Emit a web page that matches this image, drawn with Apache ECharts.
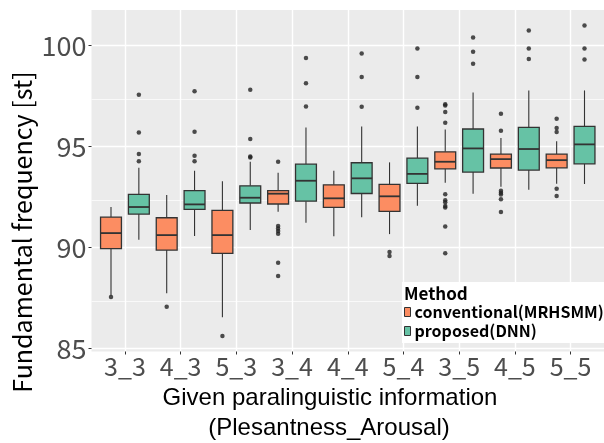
<!DOCTYPE html>
<html><head><meta charset="utf-8">
<script src="https://cdn.jsdelivr.net/npm/echarts@6/dist/echarts.min.js"></script>
<style>html,body{margin:0;padding:0;background:#fff}#c{width:604px;height:443px}</style>
</head><body><div id="c"></div>
<script>
// ---- data ----
const categories = ['3_3','4_3','5_3','3_4','4_4','5_4','3_5','4_5','5_5'];
const yTicks = [85, 90, 95, 100];
const seriesNames = ['conventional(MRHSMM)', 'proposed(DNN)'];

// conventional (MRHSMM): whisker low, Q1, median, Q3, whisker high
const convLow  = [87.62, 87.73, 86.54, 91.77, 90.55, 90.66, 93.20, 93.00, 93.15];
const convQ1   = [89.94, 89.87, 89.71, 92.15, 91.98, 91.78, 93.89, 93.93, 93.94];
const convMed  = [90.71, 90.61, 90.61, 92.66, 92.43, 92.53, 94.24, 94.37, 94.32];
const convQ3   = [91.50, 91.47, 91.83, 92.81, 93.10, 93.12, 94.73, 94.62, 94.62];
const convHigh = [92.00, 92.59, 93.27, 93.69, 93.79, 94.21, 95.84, 95.41, 95.26];
const convOut  = [
  [87.55],
  [87.07],
  [85.62],
  [94.24, 91.06, 90.94, 90.81, 90.68, 89.24, 88.59],
  [],
  [89.77, 89.57],
  [96.17, 96.70, 97.03, 97.09, 92.63, 92.34, 92.23, 92.05, 91.98, 91.04, 89.71],
  [95.77, 96.61, 92.80, 92.71, 92.62, 92.38, 91.75],
  [95.71, 95.91, 96.37, 92.90, 92.54]
];

// proposed (DNN)
const propLow  = [90.38, 90.56, 90.86, 91.22, 91.49, 92.06, 92.66, 92.85, 93.14];
const propQ1   = [91.65, 91.88, 92.20, 92.29, 92.67, 93.17, 93.73, 93.83, 94.14];
const propMed  = [92.00, 92.13, 92.46, 93.30, 93.42, 93.64, 94.90, 94.87, 95.10];
const propQ3   = [92.63, 92.81, 93.05, 94.12, 94.19, 94.42, 95.86, 95.94, 95.99];
const propHigh = [93.94, 93.79, 94.24, 95.94, 95.99, 95.99, 97.67, 97.77, 97.77];
const propOut  = [
  [94.26, 94.62, 95.69, 97.55],
  [94.27, 94.54, 95.72, 97.73],
  [94.45, 94.50, 95.36, 97.80],
  [96.98, 98.13, 99.38],
  [96.96, 98.43, 99.60],
  [96.91, 98.44, 99.85],
  [99.09, 99.68, 100.39],
  [99.32, 99.85, 100.74],
  [99.30, 99.85, 100.98]
];

// ---- styles / layout ----
const COLORS = ['#FC8D62', '#66C2A5'];
const DODGE = [-0.25, 0.25];
const BOX_W = 0.375;
const TICK_FONT = '"Noto Sans CJK JP", "Noto Sans", sans-serif';
const TITLE_FONT = '"Liberation Sans", Arial, sans-serif';

function boxData(low, q1, med, q3, high) {
  return categories.map((c, i) => [i, low[i], q1[i], med[i], q3[i], high[i]]);
}
function outData(outs, off) {
  const pts = [];
  outs.forEach((list, i) => list.forEach(v => pts.push([i + off, v])));
  return pts;
}
function renderBox(off, fill) {
  return function (params, api) {
    const x = api.value(0) + off;
    const pL = api.coord([x, api.value(1)]);
    const p1 = api.coord([x, api.value(2)]);
    const pM = api.coord([x, api.value(3)]);
    const p3 = api.coord([x, api.value(4)]);
    const pH = api.coord([x, api.value(5)]);
    const hw = api.size([BOX_W, 0])[0] / 2;
    const xc = pM[0];
    const ln = { stroke: '#333333', lineWidth: 1.1 };
    return {
      type: 'group',
      children: [
        { type: 'line', shape: { x1: xc, y1: pH[1], x2: xc, y2: p3[1] }, style: ln },
        { type: 'line', shape: { x1: xc, y1: p1[1], x2: xc, y2: pL[1] }, style: ln },
        { type: 'rect', shape: { x: xc - hw, y: p3[1], width: 2 * hw, height: p1[1] - p3[1] },
          style: { fill: fill, stroke: '#333333', lineWidth: 1.3 } },
        { type: 'line', shape: { x1: xc - hw, y1: pM[1], x2: xc + hw, y2: pM[1] },
          style: { stroke: '#333333', lineWidth: 1.8 } }
      ]
    };
  };
}

const chart = echarts.init(document.getElementById('c'), null, { renderer: 'canvas' });
const catIdx = categories.map((c, i) => i);

chart.setOption({
  animation: false,
  grid: { left: 91.5, top: 10, width: 514.3, height: 341.5, backgroundColor: '#EBEBEB', show: true, borderWidth: 0 },
  xAxis: {
    type: 'value', min: -0.6, max: categories.length - 1 + 0.6, interval: 1,
    axisLine: { show: false, onZero: false },
    axisTick: { show: true, length: 3, customValues: catIdx, lineStyle: { color: '#333333', width: 1 } },
    axisLabel: { customValues: catIdx, formatter: v => categories[Math.round(v)] || '', color: '#4D4D4D',
      fontSize: 25, fontFamily: TICK_FONT, margin: 2 },
    splitLine: { show: true, lineStyle: { color: '#FFFFFF', width: 1.4 } }
  },
  yAxis: {
    type: 'value', min: 84.85, max: 101.75, interval: 5,
    axisLine: { show: false, onZero: false },
    axisTick: { show: true, length: 3, customValues: yTicks, lineStyle: { color: '#333333', width: 1 } },
    axisLabel: { customValues: yTicks, color: '#4D4D4D', fontSize: 27, fontFamily: TICK_FONT, margin: 5 },
    splitLine: { show: true, lineStyle: { color: '#FFFFFF', width: 1.4 } },
    minorTick: { show: false, splitNumber: 2 },
    minorSplitLine: { show: true, lineStyle: { color: '#FFFFFF', width: 0.7 } }
  },
  legend: {
    orient: 'vertical', left: 404, top: 304, padding: 0, itemGap: 3,
    itemWidth: 6, itemHeight: 9,
    textStyle: { fontSize: 16, fontWeight: 'bold', color: '#000', fontFamily: TICK_FONT, padding: [0, 0, 0, -1] },
    data: [
      { name: seriesNames[0], icon: 'rect', itemStyle: { color: COLORS[0], borderColor: '#333', borderWidth: 1 } },
      { name: seriesNames[1], icon: 'rect', itemStyle: { color: COLORS[1], borderColor: '#333', borderWidth: 1 } }
    ]
  },
  graphic: [
    { type: 'rect', z: 3, shape: { x: 402, y: 282, width: 210, height: 61 }, style: { fill: '#FFFFFF' } },
    { type: 'text', z: 5, x: 404, y: 294, style: { text: 'Method', fontSize: 17, fontWeight: 'bold',
        fontFamily: TICK_FONT, fill: '#000', verticalAlign: 'middle', align: 'left' } },
    { type: 'text', x: 22, y: 232, rotation: Math.PI / 2, style: { text: 'Fundamental frequency [st]',
        fontSize: 25, fontFamily: TICK_FONT, fill: '#000', align: 'center', verticalAlign: 'middle' } },
    { type: 'text', x: 330, y: 398, style: { text: 'Given paralinguistic information',
        fontSize: 24, fontFamily: TITLE_FONT, fill: '#000', align: 'center', verticalAlign: 'middle' } },
    { type: 'text', x: 329, y: 428, style: { text: '(Plesantness_Arousal)',
        fontSize: 24, fontFamily: TITLE_FONT, fill: '#000', align: 'center', verticalAlign: 'middle' } }
  ],
  series: [
    { name: seriesNames[0], type: 'custom', renderItem: renderBox(DODGE[0], COLORS[0]),
      itemStyle: { color: COLORS[0] }, encode: { x: 0, y: [1, 2, 3, 4, 5] },
      data: boxData(convLow, convQ1, convMed, convQ3, convHigh), z: 2 },
    { name: seriesNames[1], type: 'custom', renderItem: renderBox(DODGE[1], COLORS[1]),
      itemStyle: { color: COLORS[1] }, encode: { x: 0, y: [1, 2, 3, 4, 5] },
      data: boxData(propLow, propQ1, propMed, propQ3, propHigh), z: 2 },
    { name: seriesNames[0] + ' outliers', type: 'scatter', symbolSize: 4.5, z: 2,
      itemStyle: { color: '#222222' }, data: outData(convOut, DODGE[0]) },
    { name: seriesNames[1] + ' outliers', type: 'scatter', symbolSize: 4.5, z: 2,
      itemStyle: { color: '#222222' }, data: outData(propOut, DODGE[1]) }
  ]
});
</script>
</body></html>
